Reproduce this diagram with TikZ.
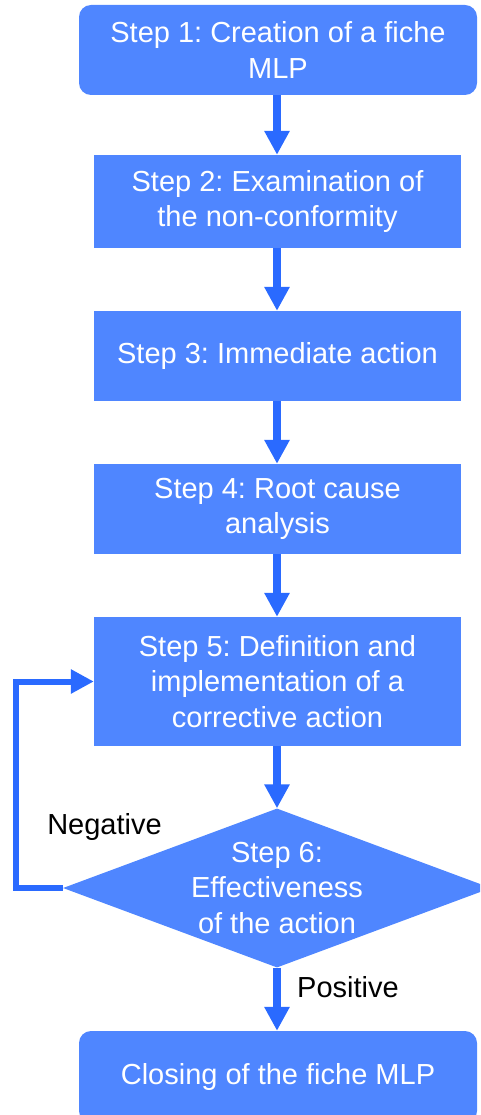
\documentclass[tikz,border=0pt]{standalone}
\usepackage{fontspec}
\setmainfont{Liberation Sans}
\usetikzlibrary{shapes.geometric,arrows.meta}
\definecolor{boxblue}{RGB}{79,134,255}
\definecolor{arrowblue}{RGB}{42,106,255}
\frenchspacing
\begin{document}
\begin{tikzpicture}[x=1pt,y=-1pt,
  base/.style={fill=boxblue, draw=none, text=white, align=center, font=\fontsize{29}{35.5}\selectfont, inner sep=0pt},
  rbox/.style={base, rounded corners=12pt, minimum width=398pt},
  sbox/.style={base, minimum width=367pt},
  flow/.style={draw=arrowblue, line width=7.5pt, -{Triangle[width=24pt,length=24pt]}},
  back/.style={draw=arrowblue, line width=6pt, -{Triangle[width=23pt,length=23pt]}},
  lbl/.style={font=\fontsize{29}{35.5}\selectfont, text=black, inner sep=0pt}]
\useasboundingbox (0,0) rectangle (480,1115);
\clip (0,0) rectangle (480,1115);
\node[rbox, minimum height=90pt] (b1) at (278,50) {Step 1: Creation of a fiche\\MLP};
\node[sbox, minimum height=93pt] (b2) at (277.5,201.5) {Step 2: Examination of\\the non-conformity};
\node[sbox, minimum height=90pt] (b3) at (277.5,356) {Step 3: Immediate action};
\node[sbox, minimum height=90pt] (b4) at (277.5,509) {Step 4: Root cause\\analysis};
\node[sbox, minimum height=129pt] (b5) at (277.5,681.5) {Step 5: Definition and\\implementation of a\\corrective action};
\node[diamond, fill=boxblue, draw=none, inner sep=0pt, minimum width=428pt, minimum height=159pt] (d6) at (277,888) {};
\node[base, fill=none] (t6) at (d6.center) {Step 6:\\Effectiveness\\of the action};
\node[rbox, minimum height=92pt] (b7) at (278,1077) {Closing of the fiche MLP};
\draw[flow] (b1.south -| 277,0) -- (b2.north -| 277,0);
\draw[flow] (b2.south -| 277,0) -- (b3.north -| 277,0);
\draw[flow] (b3.south -| 277,0) -- (b4.north -| 277,0);
\draw[flow] (b4.south -| 277,0) -- (b5.north -| 277,0);
\draw[flow] (b5.south -| 277,0) -- (d6.north);
\draw[flow] (d6.south) -- (b7.north -| 277,0);
\coordinate (fb) at (15.5,888);
\draw[back] (d6.west) -- (fb) |- (b5.west);
\node[lbl] (neg) at (104.5,827) {Negative};
\node[lbl] (pos) at (348,987) {Positive};
\end{tikzpicture}
\end{document}
